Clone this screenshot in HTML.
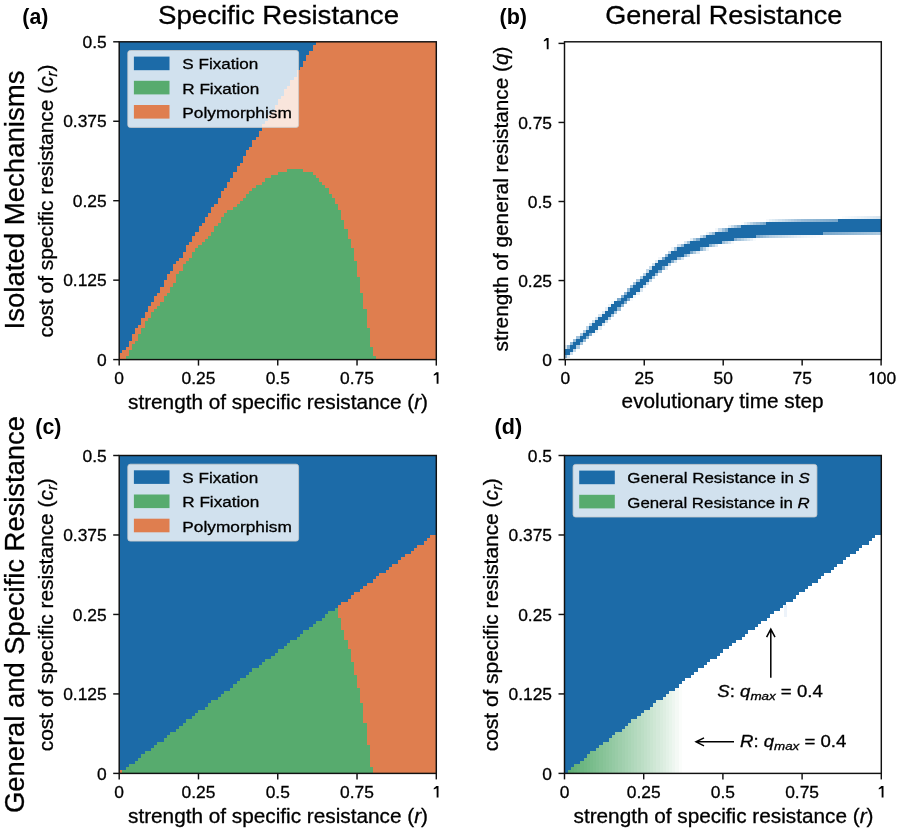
<!DOCTYPE html>
<html><head><meta charset="utf-8"><style>
html,body{margin:0;padding:0;background:#fff;}
body{width:900px;height:831px;overflow:hidden;}
svg{display:block;font-family:'Liberation Sans', sans-serif;will-change:transform;}
text{stroke:#000;stroke-width:0.3px;}
text[font-weight=bold]{stroke:none;}
</style></head><body>
<svg width="900" height="831" viewBox="0 0 900 831">
<g shape-rendering="crispEdges">
<rect x="119.20" y="41.80" width="317.10" height="317.80" fill="#df7e4f"/><path fill="#1c6ba8" d="M119.20 41.80H122.39V353.24H119.20ZM122.37 41.80H125.56V350.07H122.37ZM125.54 41.80H128.73V346.89H125.54ZM128.71 41.80H131.90V340.53H128.71ZM131.88 41.80H135.08V334.18H131.88ZM135.06 41.80H138.25V327.82H135.06ZM138.23 41.80H141.42V324.64H138.23ZM141.40 41.80H144.59V318.29H141.40ZM144.57 41.80H147.76V311.93H144.57ZM147.74 41.80H150.93V305.57H147.74ZM150.91 41.80H154.10V302.40H150.91ZM154.08 41.80H157.27V296.04H154.08ZM157.25 41.80H160.44V292.86H157.25ZM160.42 41.80H163.61V286.51H160.42ZM163.59 41.80H166.78V280.15H163.59ZM166.77 41.80H169.96V273.79H166.77ZM169.94 41.80H173.13V270.62H169.94ZM173.11 41.80H176.30V264.26H173.11ZM176.28 41.80H179.47V261.08H176.28ZM179.45 41.80H182.64V257.90H179.45ZM182.62 41.80H185.81V251.55H182.62ZM185.79 41.80H188.98V245.19H185.79ZM188.96 41.80H192.15V242.01H188.96ZM192.13 41.80H195.32V235.66H192.13ZM195.30 41.80H198.50V232.48H195.30ZM198.48 41.80H201.67V226.12H198.48ZM201.65 41.80H204.84V222.95H201.65ZM204.82 41.80H208.01V216.59H204.82ZM207.99 41.80H211.18V213.41H207.99ZM211.16 41.80H214.35V207.06H211.16ZM214.33 41.80H217.52V203.88H214.33ZM217.50 41.80H220.69V197.52H217.50ZM220.67 41.80H223.86V191.17H220.67ZM223.84 41.80H227.03V187.99H223.84ZM227.01 41.80H230.21V181.63H227.01ZM230.19 41.80H233.38V178.45H230.19ZM233.36 41.80H236.55V172.10H233.36ZM236.53 41.80H239.72V165.74H236.53ZM239.70 41.80H242.89V162.56H239.70ZM242.87 41.80H246.06V156.21H242.87ZM246.04 41.80H249.23V149.85H246.04ZM249.21 41.80H252.40V146.67H249.21ZM252.38 41.80H255.57V140.32H252.38ZM255.55 41.80H258.74V137.14H255.55ZM258.72 41.80H261.91V130.78H258.72ZM261.90 41.80H265.09V124.43H261.90ZM265.07 41.80H268.26V121.25H265.07ZM268.24 41.80H271.43V114.89H268.24ZM271.41 41.80H274.60V111.72H271.41ZM274.58 41.80H277.77V105.36H274.58ZM277.75 41.80H280.94V99.00H277.75ZM280.92 41.80H284.11V95.83H280.92ZM284.09 41.80H287.28V89.47H284.09ZM287.26 41.80H290.45V86.29H287.26ZM290.43 41.80H293.62V79.94H290.43ZM293.61 41.80H296.80V76.76H293.61ZM296.78 41.80H299.97V70.40H296.78ZM299.95 41.80H303.14V67.22H299.95ZM303.12 41.80H306.31V60.87H303.12ZM306.29 41.80H309.48V54.51H306.29ZM309.46 41.80H312.65V51.33H309.46ZM312.63 41.80H315.82V44.98H312.63Z"/>
<path fill="#57ab6e" d="M125.54 356.42H128.73V359.60H125.54ZM128.71 350.07H131.90V359.60H128.71ZM131.88 343.71H135.08V359.60H131.88ZM135.06 340.53H138.25V359.60H135.06ZM138.23 334.18H141.42V359.60H138.23ZM141.40 327.82H144.59V359.60H141.40ZM144.57 321.46H147.76V359.60H144.57ZM147.74 318.29H150.93V359.60H147.74ZM150.91 311.93H154.10V359.60H150.91ZM154.08 308.75H157.27V359.60H154.08ZM157.25 305.57H160.44V359.60H157.25ZM160.42 302.40H163.61V359.60H160.42ZM163.59 296.04H166.78V359.60H163.59ZM166.77 292.86H169.96V359.60H166.77ZM169.94 286.51H173.13V359.60H169.94ZM173.11 283.33H176.30V359.60H173.11ZM176.28 273.79H179.47V359.60H176.28ZM179.45 270.62H182.64V359.60H179.45ZM182.62 264.26H185.81V359.60H182.62ZM185.79 261.08H188.98V359.60H185.79ZM188.96 257.90H192.15V359.60H188.96ZM192.13 251.55H195.32V359.60H192.13ZM195.30 248.37H198.50V359.60H195.30ZM198.48 245.19H201.67V359.60H198.48ZM201.65 242.01H204.84V359.60H201.65ZM204.82 238.84H208.01V359.60H204.82ZM207.99 235.66H211.18V359.60H207.99ZM211.16 232.48H214.35V359.60H211.16ZM214.33 226.12H217.52V359.60H214.33ZM217.50 222.95H220.69V359.60H217.50ZM220.67 216.59H223.86V359.60H220.67ZM223.84 213.41H227.03V359.60H223.84ZM227.01 210.23H230.21V359.60H227.01ZM230.19 210.23H233.38V359.60H230.19ZM233.36 207.06H236.55V359.60H233.36ZM236.53 203.88H239.72V359.60H236.53ZM239.70 200.70H242.89V359.60H239.70ZM242.87 197.52H246.06V359.60H242.87ZM246.04 194.34H249.23V359.60H246.04ZM249.21 191.17H252.40V359.60H249.21ZM252.38 187.99H255.57V359.60H252.38ZM255.55 184.81H258.74V359.60H255.55ZM258.72 184.81H261.91V359.60H258.72ZM261.90 181.63H265.09V359.60H261.90ZM265.07 178.45H268.26V359.60H265.07ZM268.24 178.45H271.43V359.60H268.24ZM271.41 175.28H274.60V359.60H271.41ZM274.58 175.28H277.77V359.60H274.58ZM277.75 172.10H280.94V359.60H277.75ZM280.92 172.10H284.11V359.60H280.92ZM284.09 172.10H287.28V359.60H284.09ZM287.26 168.92H290.45V359.60H287.26ZM290.43 168.92H293.62V359.60H290.43ZM293.61 168.92H296.80V359.60H293.61ZM296.78 168.92H299.97V359.60H296.78ZM299.95 168.92H303.14V359.60H299.95ZM303.12 172.10H306.31V359.60H303.12ZM306.29 172.10H309.48V359.60H306.29ZM309.46 172.10H312.65V359.60H309.46ZM312.63 175.28H315.82V359.60H312.63ZM315.80 178.45H318.99V359.60H315.80ZM318.97 181.63H322.16V359.60H318.97ZM322.14 184.81H325.33V359.60H322.14ZM325.31 187.99H328.51V359.60H325.31ZM328.49 194.34H331.68V359.60H328.49ZM331.66 197.52H334.85V359.60H331.66ZM334.83 203.88H338.02V359.60H334.83ZM338.00 210.23H341.19V359.60H338.00ZM341.17 219.77H344.36V359.60H341.17ZM344.34 229.30H347.53V359.60H344.34ZM347.51 238.84H350.70V359.60H347.51ZM350.68 248.37H353.87V359.60H350.68ZM353.85 261.08H357.05V359.60H353.85ZM357.03 276.97H360.22V359.60H357.03ZM360.20 292.86H363.39V359.60H360.20ZM363.37 308.75H366.56V359.60H363.37ZM366.54 327.82H369.73V359.60H366.54ZM369.71 346.89H372.90V359.60H369.71ZM372.88 356.42H376.07V359.60H372.88Z"/>
<rect x="119.20" y="455.50" width="317.10" height="317.90" fill="#df7e4f"/><path fill="#1c6ba8" d="M119.20 455.50H122.39V770.22H119.20ZM122.37 455.50H125.56V770.22H122.37ZM125.54 455.50H128.73V767.04H125.54ZM128.71 455.50H131.90V763.86H128.71ZM131.88 455.50H135.08V763.86H131.88ZM135.06 455.50H138.25V760.68H135.06ZM138.23 455.50H141.42V757.50H138.23ZM141.40 455.50H144.59V754.33H141.40ZM144.57 455.50H147.76V751.15H144.57ZM147.74 455.50H150.93V751.15H147.74ZM150.91 455.50H154.10V747.97H150.91ZM154.08 455.50H157.27V744.79H154.08ZM157.25 455.50H160.44V741.61H157.25ZM160.42 455.50H163.61V741.61H160.42ZM163.59 455.50H166.78V738.43H163.59ZM166.77 455.50H169.96V735.25H166.77ZM169.94 455.50H173.13V732.07H169.94ZM173.11 455.50H176.30V732.07H173.11ZM176.28 455.50H179.47V728.89H176.28ZM179.45 455.50H182.64V725.72H179.45ZM182.62 455.50H185.81V722.54H182.62ZM185.79 455.50H188.98V719.36H185.79ZM188.96 455.50H192.15V719.36H188.96ZM192.13 455.50H195.32V716.18H192.13ZM195.30 455.50H198.50V713.00H195.30ZM198.48 455.50H201.67V709.82H198.48ZM201.65 455.50H204.84V709.82H201.65ZM204.82 455.50H208.01V706.64H204.82ZM207.99 455.50H211.18V703.46H207.99ZM211.16 455.50H214.35V700.28H211.16ZM214.33 455.50H217.52V700.28H214.33ZM217.50 455.50H220.69V697.10H217.50ZM220.67 455.50H223.86V693.92H220.67ZM223.84 455.50H227.03V690.75H223.84ZM227.01 455.50H230.21V690.75H227.01ZM230.19 455.50H233.38V687.57H230.19ZM233.36 455.50H236.55V684.39H233.36ZM236.53 455.50H239.72V681.21H236.53ZM239.70 455.50H242.89V678.03H239.70ZM242.87 455.50H246.06V678.03H242.87ZM246.04 455.50H249.23V674.85H246.04ZM249.21 455.50H252.40V671.67H249.21ZM252.38 455.50H255.57V668.49H252.38ZM255.55 455.50H258.74V668.49H255.55ZM258.72 455.50H261.91V665.31H258.72ZM261.90 455.50H265.09V662.13H261.90ZM265.07 455.50H268.26V658.96H265.07ZM268.24 455.50H271.43V658.96H268.24ZM271.41 455.50H274.60V655.78H271.41ZM274.58 455.50H277.77V652.60H274.58ZM277.75 455.50H280.94V649.42H277.75ZM280.92 455.50H284.11V649.42H280.92ZM284.09 455.50H287.28V646.24H284.09ZM287.26 455.50H290.45V643.06H287.26ZM290.43 455.50H293.62V639.88H290.43ZM293.61 455.50H296.80V639.88H293.61ZM296.78 455.50H299.97V636.70H296.78ZM299.95 455.50H303.14V633.52H299.95ZM303.12 455.50H306.31V630.35H303.12ZM306.29 455.50H309.48V630.35H306.29ZM309.46 455.50H312.65V627.17H309.46ZM312.63 455.50H315.82V623.99H312.63ZM315.80 455.50H318.99V620.81H315.80ZM318.97 455.50H322.16V620.81H318.97ZM322.14 455.50H325.33V617.63H322.14ZM325.31 455.50H328.51V614.45H325.31ZM328.49 455.50H331.68V611.27H328.49ZM331.66 455.50H334.85V611.27H331.66ZM334.83 455.50H338.02V608.09H334.83ZM338.00 455.50H341.19V604.91H338.00ZM341.17 455.50H344.36V601.73H341.17ZM344.34 455.50H347.53V601.73H344.34ZM347.51 455.50H350.70V598.55H347.51ZM350.68 455.50H353.87V595.38H350.68ZM353.85 455.50H357.05V592.20H353.85ZM357.03 455.50H360.22V592.20H357.03ZM360.20 455.50H363.39V589.02H360.20ZM363.37 455.50H366.56V585.84H363.37ZM366.54 455.50H369.73V582.66H366.54ZM369.71 455.50H372.90V582.66H369.71ZM372.88 455.50H376.07V579.48H372.88ZM376.05 455.50H379.24V576.30H376.05ZM379.22 455.50H382.41V573.12H379.22ZM382.39 455.50H385.58V573.12H382.39ZM385.56 455.50H388.75V569.94H385.56ZM388.74 455.50H391.93V566.76H388.74ZM391.91 455.50H395.10V563.59H391.91ZM395.08 455.50H398.27V563.59H395.08ZM398.25 455.50H401.44V560.41H398.25ZM401.42 455.50H404.61V557.23H401.42ZM404.59 455.50H407.78V554.05H404.59ZM407.76 455.50H410.95V554.05H407.76ZM410.93 455.50H414.12V550.87H410.93ZM414.10 455.50H417.29V547.69H414.10ZM417.27 455.50H420.46V544.51H417.27ZM420.44 455.50H423.64V544.51H420.44ZM423.62 455.50H426.81V541.33H423.62ZM426.79 455.50H429.98V538.15H426.79ZM429.96 455.50H433.15V534.98H429.96ZM433.13 455.50H436.32V534.98H433.13Z"/>
<path fill="#57ab6e" d="M122.37 770.22H125.56V773.40H122.37ZM125.54 767.04H128.73V773.40H125.54ZM128.71 763.86H131.90V773.40H128.71ZM131.88 763.86H135.08V773.40H131.88ZM135.06 760.68H138.25V773.40H135.06ZM138.23 757.50H141.42V773.40H138.23ZM141.40 754.33H144.59V773.40H141.40ZM144.57 751.15H147.76V773.40H144.57ZM147.74 751.15H150.93V773.40H147.74ZM150.91 747.97H154.10V773.40H150.91ZM154.08 744.79H157.27V773.40H154.08ZM157.25 741.61H160.44V773.40H157.25ZM160.42 741.61H163.61V773.40H160.42ZM163.59 738.43H166.78V773.40H163.59ZM166.77 735.25H169.96V773.40H166.77ZM169.94 732.07H173.13V773.40H169.94ZM173.11 732.07H176.30V773.40H173.11ZM176.28 728.89H179.47V773.40H176.28ZM179.45 725.72H182.64V773.40H179.45ZM182.62 722.54H185.81V773.40H182.62ZM185.79 719.36H188.98V773.40H185.79ZM188.96 719.36H192.15V773.40H188.96ZM192.13 716.18H195.32V773.40H192.13ZM195.30 713.00H198.50V773.40H195.30ZM198.48 709.82H201.67V773.40H198.48ZM201.65 709.82H204.84V773.40H201.65ZM204.82 706.64H208.01V773.40H204.82ZM207.99 703.46H211.18V773.40H207.99ZM211.16 700.28H214.35V773.40H211.16ZM214.33 700.28H217.52V773.40H214.33ZM217.50 697.10H220.69V773.40H217.50ZM220.67 693.92H223.86V773.40H220.67ZM223.84 690.75H227.03V773.40H223.84ZM227.01 690.75H230.21V773.40H227.01ZM230.19 687.57H233.38V773.40H230.19ZM233.36 684.39H236.55V773.40H233.36ZM236.53 681.21H239.72V773.40H236.53ZM239.70 678.03H242.89V773.40H239.70ZM242.87 678.03H246.06V773.40H242.87ZM246.04 674.85H249.23V773.40H246.04ZM249.21 671.67H252.40V773.40H249.21ZM252.38 668.49H255.57V773.40H252.38ZM255.55 668.49H258.74V773.40H255.55ZM258.72 665.31H261.91V773.40H258.72ZM261.90 662.13H265.09V773.40H261.90ZM265.07 658.96H268.26V773.40H265.07ZM268.24 658.96H271.43V773.40H268.24ZM271.41 655.78H274.60V773.40H271.41ZM274.58 652.60H277.77V773.40H274.58ZM277.75 649.42H280.94V773.40H277.75ZM280.92 649.42H284.11V773.40H280.92ZM284.09 646.24H287.28V773.40H284.09ZM287.26 643.06H290.45V773.40H287.26ZM290.43 639.88H293.62V773.40H290.43ZM293.61 639.88H296.80V773.40H293.61ZM296.78 636.70H299.97V773.40H296.78ZM299.95 633.52H303.14V773.40H299.95ZM303.12 630.35H306.31V773.40H303.12ZM306.29 630.35H309.48V773.40H306.29ZM309.46 627.17H312.65V773.40H309.46ZM312.63 623.99H315.82V773.40H312.63ZM315.80 620.81H318.99V773.40H315.80ZM318.97 620.81H322.16V773.40H318.97ZM322.14 617.63H325.33V773.40H322.14ZM325.31 614.45H328.51V773.40H325.31ZM328.49 611.27H331.68V773.40H328.49ZM331.66 611.27H334.85V773.40H331.66ZM334.83 608.09H338.02V773.40H334.83ZM338.00 617.63H341.19V773.40H338.00ZM341.17 630.35H344.36V773.40H341.17ZM344.34 639.88H347.53V773.40H344.34ZM347.51 649.42H350.70V773.40H347.51ZM350.68 662.13H353.87V773.40H350.68ZM353.85 674.85H357.05V773.40H353.85ZM357.03 687.57H360.22V773.40H357.03ZM360.20 703.46H363.39V773.40H360.20ZM363.37 722.54H366.56V773.40H363.37ZM366.54 744.79H369.73V773.40H366.54ZM369.71 767.04H372.90V773.40H369.71Z"/>
<path fill="#1c6ba8" d="M564.50 455.50H567.69V773.40H564.50ZM567.67 455.50H570.86V770.22H567.67ZM570.84 455.50H574.02V767.04H570.84ZM574.00 455.50H577.19V763.86H574.00ZM577.17 455.50H580.36V763.86H577.17ZM580.34 455.50H583.53V760.68H580.34ZM583.51 455.50H586.70V757.50H583.51ZM586.68 455.50H589.86V754.33H586.68ZM589.84 455.50H593.03V751.15H589.84ZM593.01 455.50H596.20V751.15H593.01ZM596.18 455.50H599.37V747.97H596.18ZM599.35 455.50H602.54V744.79H599.35ZM602.52 455.50H605.70V741.61H602.52ZM605.68 455.50H608.87V741.61H605.68ZM608.85 455.50H612.04V738.43H608.85ZM612.02 455.50H615.21V735.25H612.02ZM615.19 455.50H618.38V732.07H615.19ZM618.36 455.50H621.54V732.07H618.36ZM621.52 455.50H624.71V728.89H621.52ZM624.69 455.50H627.88V725.72H624.69ZM627.86 455.50H631.05V722.54H627.86ZM631.03 455.50H634.22V719.36H631.03ZM634.20 455.50H637.38V719.36H634.20ZM637.36 455.50H640.55V716.18H637.36ZM640.53 455.50H643.72V713.00H640.53ZM643.70 455.50H646.89V709.82H643.70ZM646.87 455.50H650.06V709.82H646.87ZM650.04 455.50H653.22V706.64H650.04ZM653.20 455.50H656.39V703.46H653.20ZM656.37 455.50H659.56V700.28H656.37ZM659.54 455.50H662.73V700.28H659.54ZM662.71 455.50H665.90V697.10H662.71ZM665.88 455.50H669.06V693.92H665.88ZM669.04 455.50H672.23V690.75H669.04ZM672.21 455.50H675.40V690.75H672.21ZM675.38 455.50H678.57V687.57H675.38ZM678.55 455.50H681.74V684.39H678.55ZM681.72 455.50H684.90V681.21H681.72ZM684.88 455.50H688.07V678.03H684.88ZM688.05 455.50H691.24V678.03H688.05ZM691.22 455.50H694.41V674.85H691.22ZM694.39 455.50H697.58V671.67H694.39ZM697.56 455.50H700.74V668.49H697.56ZM700.72 455.50H703.91V668.49H700.72ZM703.89 455.50H707.08V665.31H703.89ZM707.06 455.50H710.25V662.13H707.06ZM710.23 455.50H713.42V658.96H710.23ZM713.40 455.50H716.58V658.96H713.40ZM716.56 455.50H719.75V655.78H716.56ZM719.73 455.50H722.92V652.60H719.73ZM722.90 455.50H726.09V649.42H722.90ZM726.07 455.50H729.26V649.42H726.07ZM729.24 455.50H732.42V646.24H729.24ZM732.40 455.50H735.59V643.06H732.40ZM735.57 455.50H738.76V639.88H735.57ZM738.74 455.50H741.93V639.88H738.74ZM741.91 455.50H745.10V636.70H741.91ZM745.08 455.50H748.26V633.52H745.08ZM748.24 455.50H751.43V630.35H748.24ZM751.41 455.50H754.60V630.35H751.41ZM754.58 455.50H757.77V627.17H754.58ZM757.75 455.50H760.94V623.99H757.75ZM760.92 455.50H764.10V620.81H760.92ZM764.08 455.50H767.27V620.81H764.08ZM767.25 455.50H770.44V617.63H767.25ZM770.42 455.50H773.61V614.45H770.42ZM773.59 455.50H776.78V611.27H773.59ZM776.76 455.50H779.94V611.27H776.76ZM779.92 455.50H783.11V608.09H779.92ZM783.09 455.50H786.28V604.91H783.09ZM786.26 455.50H789.45V601.73H786.26ZM789.43 455.50H792.62V601.73H789.43ZM792.60 455.50H795.78V598.55H792.60ZM795.76 455.50H798.95V595.38H795.76ZM798.93 455.50H802.12V592.20H798.93ZM802.10 455.50H805.29V592.20H802.10ZM805.27 455.50H808.46V589.02H805.27ZM808.44 455.50H811.62V585.84H808.44ZM811.60 455.50H814.79V582.66H811.60ZM814.77 455.50H817.96V582.66H814.77ZM817.94 455.50H821.13V579.48H817.94ZM821.11 455.50H824.30V576.30H821.11ZM824.28 455.50H827.46V573.12H824.28ZM827.44 455.50H830.63V573.12H827.44ZM830.61 455.50H833.80V569.94H830.61ZM833.78 455.50H836.97V566.76H833.78ZM836.95 455.50H840.14V563.59H836.95ZM840.12 455.50H843.30V563.59H840.12ZM843.28 455.50H846.47V560.41H843.28ZM846.45 455.50H849.64V557.23H846.45ZM849.62 455.50H852.81V554.05H849.62ZM852.79 455.50H855.98V554.05H852.79ZM855.96 455.50H859.14V550.87H855.96ZM859.12 455.50H862.31V547.69H859.12ZM862.29 455.50H865.48V544.51H862.29ZM865.46 455.50H868.65V544.51H865.46ZM868.63 455.50H871.82V541.33H868.63ZM871.80 455.50H874.98V538.15H871.80ZM874.96 455.50H878.15V534.98H874.96ZM878.13 455.50H881.32V534.98H878.13Z"/>
<rect x="567.67" y="770.22" width="3.20" height="3.18" fill="#5dae73"/>
<rect x="570.84" y="767.04" width="3.20" height="6.36" fill="#61b076"/>
<rect x="574.00" y="763.86" width="3.20" height="9.54" fill="#65b27a"/>
<rect x="577.17" y="763.86" width="3.20" height="9.54" fill="#69b47d"/>
<rect x="580.34" y="760.68" width="3.20" height="12.72" fill="#6cb681"/>
<rect x="583.51" y="757.50" width="3.20" height="15.89" fill="#70b884"/>
<rect x="586.68" y="754.33" width="3.20" height="19.07" fill="#74ba87"/>
<rect x="589.84" y="751.15" width="3.20" height="22.25" fill="#78bc8b"/>
<rect x="593.01" y="751.15" width="3.20" height="22.25" fill="#7cbe8e"/>
<rect x="596.18" y="747.97" width="3.20" height="25.43" fill="#80c092"/>
<rect x="599.35" y="744.79" width="3.20" height="28.61" fill="#85c295"/>
<rect x="602.52" y="741.61" width="3.20" height="31.79" fill="#89c499"/>
<rect x="605.68" y="741.61" width="3.20" height="31.79" fill="#8dc69c"/>
<rect x="608.85" y="738.43" width="3.20" height="34.97" fill="#91c8a0"/>
<rect x="612.02" y="735.25" width="3.20" height="38.15" fill="#95caa4"/>
<rect x="615.19" y="732.07" width="3.20" height="41.33" fill="#99cca7"/>
<rect x="618.36" y="732.07" width="3.20" height="41.33" fill="#9eceab"/>
<rect x="621.52" y="728.89" width="3.20" height="44.51" fill="#a2d0af"/>
<rect x="624.69" y="725.72" width="3.20" height="47.68" fill="#a6d3b2"/>
<rect x="627.86" y="722.54" width="3.20" height="50.86" fill="#aad5b6"/>
<rect x="631.03" y="719.36" width="3.20" height="54.04" fill="#afd7ba"/>
<rect x="634.20" y="719.36" width="3.20" height="54.04" fill="#b3d9be"/>
<rect x="637.36" y="716.18" width="3.20" height="57.22" fill="#b8dbc1"/>
<rect x="640.53" y="713.00" width="3.20" height="60.40" fill="#bcdec5"/>
<rect x="643.70" y="709.82" width="3.20" height="63.58" fill="#c1e0c9"/>
<rect x="646.87" y="709.82" width="3.20" height="63.58" fill="#c5e2cd"/>
<rect x="650.04" y="706.64" width="3.20" height="66.76" fill="#cae5d1"/>
<rect x="653.20" y="703.46" width="3.20" height="69.94" fill="#cfe7d5"/>
<rect x="656.37" y="700.28" width="3.20" height="73.12" fill="#d4e9da"/>
<rect x="659.54" y="700.28" width="3.20" height="73.12" fill="#d9ecde"/>
<rect x="662.71" y="697.10" width="3.20" height="76.30" fill="#deeee2"/>
<rect x="665.88" y="693.92" width="3.20" height="79.47" fill="#e3f1e7"/>
<rect x="669.04" y="690.75" width="3.20" height="82.65" fill="#e8f4eb"/>
<rect x="672.21" y="690.75" width="3.20" height="82.65" fill="#eef6f0"/>
<rect x="675.38" y="687.57" width="3.20" height="85.83" fill="#f4f9f5"/>
<rect x="678.55" y="684.39" width="3.20" height="89.01" fill="#fbfdfb"/>
<rect x="783.6" y="605" width="3.2" height="11.8" fill="#edf3fa"/>
<rect x="564.50" y="354.86" width="2.41" height="3.19" fill="#8bb4d3"/>
<rect x="564.50" y="351.70" width="2.41" height="3.19" fill="#1c6ba8"/>
<rect x="564.50" y="348.53" width="2.41" height="3.19" fill="#1c6ba8"/>
<rect x="564.50" y="345.37" width="2.41" height="3.19" fill="#dde9f2"/>
<rect x="566.88" y="354.86" width="3.19" height="3.19" fill="#dae7f1"/>
<rect x="566.88" y="351.70" width="3.19" height="3.19" fill="#1c6ba8"/>
<rect x="566.88" y="348.53" width="3.19" height="3.19" fill="#1c6ba8"/>
<rect x="566.88" y="345.37" width="3.19" height="3.19" fill="#89b2d2"/>
<rect x="570.04" y="351.70" width="3.19" height="3.19" fill="#cddeec"/>
<rect x="570.04" y="348.53" width="3.19" height="3.19" fill="#1c6ba8"/>
<rect x="570.04" y="345.37" width="3.19" height="3.19" fill="#1c6ba8"/>
<rect x="570.04" y="342.21" width="3.19" height="3.19" fill="#90b7d5"/>
<rect x="573.19" y="348.53" width="3.19" height="3.19" fill="#c0d6e7"/>
<rect x="573.19" y="345.37" width="3.19" height="3.19" fill="#1c6ba8"/>
<rect x="573.19" y="342.21" width="3.19" height="3.19" fill="#1c6ba8"/>
<rect x="573.19" y="339.05" width="3.19" height="3.19" fill="#98bcd8"/>
<rect x="576.35" y="345.37" width="3.19" height="3.19" fill="#b2cde2"/>
<rect x="576.35" y="342.21" width="3.19" height="3.19" fill="#1c6ba8"/>
<rect x="576.35" y="339.05" width="3.19" height="3.19" fill="#1c6ba8"/>
<rect x="576.35" y="335.89" width="3.19" height="3.19" fill="#a0c1db"/>
<rect x="579.51" y="342.21" width="3.19" height="3.19" fill="#a5c4dc"/>
<rect x="579.51" y="339.05" width="3.19" height="3.19" fill="#1c6ba8"/>
<rect x="579.51" y="335.89" width="3.19" height="3.19" fill="#1c6ba8"/>
<rect x="579.51" y="332.72" width="3.19" height="3.19" fill="#a8c6de"/>
<rect x="582.67" y="339.05" width="3.19" height="3.19" fill="#98bcd7"/>
<rect x="582.67" y="335.89" width="3.19" height="3.19" fill="#1c6ba8"/>
<rect x="582.67" y="332.72" width="3.19" height="3.19" fill="#1c6ba8"/>
<rect x="582.67" y="329.56" width="3.19" height="3.19" fill="#b0cbe1"/>
<rect x="585.83" y="335.89" width="3.19" height="3.19" fill="#8ab3d2"/>
<rect x="585.83" y="332.72" width="3.19" height="3.19" fill="#1c6ba8"/>
<rect x="585.83" y="329.56" width="3.19" height="3.19" fill="#1c6ba8"/>
<rect x="585.83" y="326.40" width="3.19" height="3.19" fill="#b8d1e4"/>
<rect x="588.98" y="332.72" width="3.19" height="3.19" fill="#7daacd"/>
<rect x="588.98" y="329.56" width="3.19" height="3.19" fill="#1c6ba8"/>
<rect x="588.98" y="326.40" width="3.19" height="3.19" fill="#1c6ba8"/>
<rect x="588.98" y="323.24" width="3.19" height="3.19" fill="#c0d6e7"/>
<rect x="592.14" y="332.72" width="3.19" height="3.19" fill="#f8fafc"/>
<rect x="592.14" y="329.56" width="3.19" height="3.19" fill="#1c6ba8"/>
<rect x="592.14" y="326.40" width="3.19" height="3.19" fill="#1c6ba8"/>
<rect x="592.14" y="323.24" width="3.19" height="3.19" fill="#1c6ba8"/>
<rect x="592.14" y="320.08" width="3.19" height="3.19" fill="#c7dbea"/>
<rect x="595.30" y="329.56" width="3.19" height="3.19" fill="#ebf2f7"/>
<rect x="595.30" y="326.40" width="3.19" height="3.19" fill="#1c6ba8"/>
<rect x="595.30" y="323.24" width="3.19" height="3.19" fill="#1c6ba8"/>
<rect x="595.30" y="320.08" width="3.19" height="3.19" fill="#1c6ba8"/>
<rect x="595.30" y="316.91" width="3.19" height="3.19" fill="#cfe0ed"/>
<rect x="598.46" y="326.40" width="3.19" height="3.19" fill="#deeaf2"/>
<rect x="598.46" y="323.24" width="3.19" height="3.19" fill="#1c6ba8"/>
<rect x="598.46" y="320.08" width="3.19" height="3.19" fill="#1c6ba8"/>
<rect x="598.46" y="316.91" width="3.19" height="3.19" fill="#1c6ba8"/>
<rect x="598.46" y="313.75" width="3.19" height="3.19" fill="#d6e4ef"/>
<rect x="601.62" y="323.24" width="3.19" height="3.19" fill="#d2e2ee"/>
<rect x="601.62" y="320.08" width="3.19" height="3.19" fill="#1c6ba8"/>
<rect x="601.62" y="316.91" width="3.19" height="3.19" fill="#1c6ba8"/>
<rect x="601.62" y="313.75" width="3.19" height="3.19" fill="#1c6ba8"/>
<rect x="601.62" y="310.59" width="3.19" height="3.19" fill="#dde9f2"/>
<rect x="604.77" y="320.08" width="3.19" height="3.19" fill="#c6dae9"/>
<rect x="604.77" y="316.91" width="3.19" height="3.19" fill="#1c6ba8"/>
<rect x="604.77" y="313.75" width="3.19" height="3.19" fill="#1c6ba8"/>
<rect x="604.77" y="310.59" width="3.19" height="3.19" fill="#1c6ba8"/>
<rect x="604.77" y="307.43" width="3.19" height="3.19" fill="#e4edf5"/>
<rect x="607.93" y="316.91" width="3.19" height="3.19" fill="#bad2e4"/>
<rect x="607.93" y="313.75" width="3.19" height="3.19" fill="#1c6ba8"/>
<rect x="607.93" y="310.59" width="3.19" height="3.19" fill="#1c6ba8"/>
<rect x="607.93" y="307.43" width="3.19" height="3.19" fill="#1c6ba8"/>
<rect x="607.93" y="304.27" width="3.19" height="3.19" fill="#ebf2f7"/>
<rect x="611.09" y="313.75" width="3.19" height="3.19" fill="#adcae0"/>
<rect x="611.09" y="310.59" width="3.19" height="3.19" fill="#1c6ba8"/>
<rect x="611.09" y="307.43" width="3.19" height="3.19" fill="#1c6ba8"/>
<rect x="611.09" y="304.27" width="3.19" height="3.19" fill="#1c6ba8"/>
<rect x="611.09" y="301.10" width="3.19" height="3.19" fill="#f1f6fa"/>
<rect x="614.25" y="310.59" width="3.19" height="3.19" fill="#a3c3dc"/>
<rect x="614.25" y="307.43" width="3.19" height="3.19" fill="#1c6ba8"/>
<rect x="614.25" y="304.27" width="3.19" height="3.19" fill="#1c6ba8"/>
<rect x="614.25" y="301.10" width="3.19" height="3.19" fill="#1c6ba8"/>
<rect x="614.25" y="297.94" width="3.19" height="3.19" fill="#fafcfd"/>
<rect x="617.41" y="307.43" width="3.19" height="3.19" fill="#98bcd7"/>
<rect x="617.41" y="304.27" width="3.19" height="3.19" fill="#1c6ba8"/>
<rect x="617.41" y="301.10" width="3.19" height="3.19" fill="#1c6ba8"/>
<rect x="617.41" y="297.94" width="3.19" height="3.19" fill="#7aa8cc"/>
<rect x="620.56" y="304.27" width="3.19" height="3.19" fill="#8db5d3"/>
<rect x="620.56" y="301.10" width="3.19" height="3.19" fill="#1c6ba8"/>
<rect x="620.56" y="297.94" width="3.19" height="3.19" fill="#1c6ba8"/>
<rect x="620.56" y="294.78" width="3.19" height="3.19" fill="#82aecf"/>
<rect x="623.72" y="301.10" width="3.19" height="3.19" fill="#82aecf"/>
<rect x="623.72" y="297.94" width="3.19" height="3.19" fill="#1c6ba8"/>
<rect x="623.72" y="294.78" width="3.19" height="3.19" fill="#1c6ba8"/>
<rect x="623.72" y="291.62" width="3.19" height="3.19" fill="#8bb3d2"/>
<rect x="626.88" y="297.94" width="3.19" height="3.19" fill="#78a7cb"/>
<rect x="626.88" y="294.78" width="3.19" height="3.19" fill="#1c6ba8"/>
<rect x="626.88" y="291.62" width="3.19" height="3.19" fill="#1c6ba8"/>
<rect x="626.88" y="288.46" width="3.19" height="3.19" fill="#93b9d6"/>
<rect x="630.04" y="297.94" width="3.19" height="3.19" fill="#f6f9fc"/>
<rect x="630.04" y="294.78" width="3.19" height="3.19" fill="#1c6ba8"/>
<rect x="630.04" y="291.62" width="3.19" height="3.19" fill="#1c6ba8"/>
<rect x="630.04" y="288.46" width="3.19" height="3.19" fill="#1c6ba8"/>
<rect x="630.04" y="285.29" width="3.19" height="3.19" fill="#9abdd8"/>
<rect x="633.20" y="294.78" width="3.19" height="3.19" fill="#edf3f8"/>
<rect x="633.20" y="291.62" width="3.19" height="3.19" fill="#1c6ba8"/>
<rect x="633.20" y="288.46" width="3.19" height="3.19" fill="#1c6ba8"/>
<rect x="633.20" y="285.29" width="3.19" height="3.19" fill="#1c6ba8"/>
<rect x="633.20" y="282.13" width="3.19" height="3.19" fill="#a2c2db"/>
<rect x="636.35" y="291.62" width="3.19" height="3.19" fill="#e3edf4"/>
<rect x="636.35" y="288.46" width="3.19" height="3.19" fill="#1c6ba8"/>
<rect x="636.35" y="285.29" width="3.19" height="3.19" fill="#1c6ba8"/>
<rect x="636.35" y="282.13" width="3.19" height="3.19" fill="#1c6ba8"/>
<rect x="636.35" y="278.97" width="3.19" height="3.19" fill="#a9c7de"/>
<rect x="639.51" y="288.46" width="3.19" height="3.19" fill="#d9e6f0"/>
<rect x="639.51" y="285.29" width="3.19" height="3.19" fill="#1c6ba8"/>
<rect x="639.51" y="282.13" width="3.19" height="3.19" fill="#1c6ba8"/>
<rect x="639.51" y="278.97" width="3.19" height="3.19" fill="#1c6ba8"/>
<rect x="639.51" y="275.81" width="3.19" height="3.19" fill="#b0cce1"/>
<rect x="642.67" y="285.29" width="3.19" height="3.19" fill="#cfe0ed"/>
<rect x="642.67" y="282.13" width="3.19" height="3.19" fill="#1c6ba8"/>
<rect x="642.67" y="278.97" width="3.19" height="3.19" fill="#1c6ba8"/>
<rect x="642.67" y="275.81" width="3.19" height="3.19" fill="#1c6ba8"/>
<rect x="642.67" y="272.65" width="3.19" height="3.19" fill="#b8d0e4"/>
<rect x="645.83" y="282.13" width="3.19" height="3.19" fill="#c6dae9"/>
<rect x="645.83" y="278.97" width="3.19" height="3.19" fill="#1c6ba8"/>
<rect x="645.83" y="275.81" width="3.19" height="3.19" fill="#1c6ba8"/>
<rect x="645.83" y="272.65" width="3.19" height="3.19" fill="#1c6ba8"/>
<rect x="645.83" y="269.48" width="3.19" height="3.19" fill="#bfd5e6"/>
<rect x="648.99" y="278.97" width="3.19" height="3.19" fill="#bcd3e5"/>
<rect x="648.99" y="275.81" width="3.19" height="3.19" fill="#1c6ba8"/>
<rect x="648.99" y="272.65" width="3.19" height="3.19" fill="#1c6ba8"/>
<rect x="648.99" y="269.48" width="3.19" height="3.19" fill="#1c6ba8"/>
<rect x="648.99" y="266.32" width="3.19" height="3.19" fill="#c6dae9"/>
<rect x="652.14" y="275.81" width="3.19" height="3.19" fill="#b2cde2"/>
<rect x="652.14" y="272.65" width="3.19" height="3.19" fill="#1c6ba8"/>
<rect x="652.14" y="269.48" width="3.19" height="3.19" fill="#1c6ba8"/>
<rect x="652.14" y="266.32" width="3.19" height="3.19" fill="#1c6ba8"/>
<rect x="652.14" y="263.16" width="3.19" height="3.19" fill="#cedfec"/>
<rect x="655.30" y="272.65" width="3.19" height="3.19" fill="#9fc0da"/>
<rect x="655.30" y="269.48" width="3.19" height="3.19" fill="#1c6ba8"/>
<rect x="655.30" y="266.32" width="3.19" height="3.19" fill="#1c6ba8"/>
<rect x="655.30" y="263.16" width="3.19" height="3.19" fill="#1c6ba8"/>
<rect x="655.30" y="260.00" width="3.19" height="3.19" fill="#dfeaf3"/>
<rect x="658.46" y="269.48" width="3.19" height="3.19" fill="#8cb4d3"/>
<rect x="658.46" y="266.32" width="3.19" height="3.19" fill="#1c6ba8"/>
<rect x="658.46" y="263.16" width="3.19" height="3.19" fill="#1c6ba8"/>
<rect x="658.46" y="260.00" width="3.19" height="3.19" fill="#1c6ba8"/>
<rect x="658.46" y="256.84" width="3.19" height="3.19" fill="#f0f5f9"/>
<rect x="661.62" y="266.32" width="3.19" height="3.19" fill="#78a7cb"/>
<rect x="661.62" y="263.16" width="3.19" height="3.19" fill="#1c6ba8"/>
<rect x="661.62" y="260.00" width="3.19" height="3.19" fill="#1c6ba8"/>
<rect x="661.62" y="256.84" width="3.19" height="3.19" fill="#78a7cb"/>
<rect x="664.78" y="266.32" width="3.19" height="3.19" fill="#dde9f2"/>
<rect x="664.78" y="263.16" width="3.19" height="3.19" fill="#1c6ba8"/>
<rect x="664.78" y="260.00" width="3.19" height="3.19" fill="#1c6ba8"/>
<rect x="664.78" y="256.84" width="3.19" height="3.19" fill="#1c6ba8"/>
<rect x="664.78" y="253.67" width="3.19" height="3.19" fill="#98bcd8"/>
<rect x="667.93" y="263.16" width="3.19" height="3.19" fill="#b9d1e4"/>
<rect x="667.93" y="260.00" width="3.19" height="3.19" fill="#1c6ba8"/>
<rect x="667.93" y="256.84" width="3.19" height="3.19" fill="#1c6ba8"/>
<rect x="667.93" y="253.67" width="3.19" height="3.19" fill="#1c6ba8"/>
<rect x="667.93" y="250.51" width="3.19" height="3.19" fill="#b9d1e4"/>
<rect x="671.09" y="260.00" width="3.19" height="3.19" fill="#81adcf"/>
<rect x="671.09" y="256.84" width="3.19" height="3.19" fill="#1c6ba8"/>
<rect x="671.09" y="253.67" width="3.19" height="3.19" fill="#1c6ba8"/>
<rect x="671.09" y="250.51" width="3.19" height="3.19" fill="#1c6ba8"/>
<rect x="671.09" y="247.35" width="3.19" height="3.19" fill="#eef4f8"/>
<rect x="674.25" y="260.00" width="3.19" height="3.19" fill="#d1e1ed"/>
<rect x="674.25" y="256.84" width="3.19" height="3.19" fill="#1c6ba8"/>
<rect x="674.25" y="253.67" width="3.19" height="3.19" fill="#1c6ba8"/>
<rect x="674.25" y="250.51" width="3.19" height="3.19" fill="#1c6ba8"/>
<rect x="674.25" y="247.35" width="3.19" height="3.19" fill="#9bbed9"/>
<rect x="677.41" y="256.84" width="3.19" height="3.19" fill="#99bdd8"/>
<rect x="677.41" y="253.67" width="3.19" height="3.19" fill="#1c6ba8"/>
<rect x="677.41" y="250.51" width="3.19" height="3.19" fill="#1c6ba8"/>
<rect x="677.41" y="247.35" width="3.19" height="3.19" fill="#1c6ba8"/>
<rect x="677.41" y="244.19" width="3.19" height="3.19" fill="#d0e0ed"/>
<rect x="680.57" y="256.84" width="3.19" height="3.19" fill="#d5e4ef"/>
<rect x="680.57" y="253.67" width="3.19" height="3.19" fill="#1c6ba8"/>
<rect x="680.57" y="250.51" width="3.19" height="3.19" fill="#1c6ba8"/>
<rect x="680.57" y="247.35" width="3.19" height="3.19" fill="#1c6ba8"/>
<rect x="680.57" y="244.19" width="3.19" height="3.19" fill="#91b7d5"/>
<rect x="683.72" y="253.67" width="3.19" height="3.19" fill="#88b2d2"/>
<rect x="683.72" y="250.51" width="3.19" height="3.19" fill="#1c6ba8"/>
<rect x="683.72" y="247.35" width="3.19" height="3.19" fill="#1c6ba8"/>
<rect x="683.72" y="244.19" width="3.19" height="3.19" fill="#1c6ba8"/>
<rect x="683.72" y="241.03" width="3.19" height="3.19" fill="#dae7f1"/>
<rect x="686.88" y="253.67" width="3.19" height="3.19" fill="#c4d9e8"/>
<rect x="686.88" y="250.51" width="3.19" height="3.19" fill="#1c6ba8"/>
<rect x="686.88" y="247.35" width="3.19" height="3.19" fill="#1c6ba8"/>
<rect x="686.88" y="244.19" width="3.19" height="3.19" fill="#1c6ba8"/>
<rect x="686.88" y="241.03" width="3.19" height="3.19" fill="#9bbed9"/>
<rect x="690.04" y="250.51" width="3.19" height="3.19" fill="#78a7cb"/>
<rect x="690.04" y="247.35" width="3.19" height="3.19" fill="#1c6ba8"/>
<rect x="690.04" y="244.19" width="3.19" height="3.19" fill="#1c6ba8"/>
<rect x="690.04" y="241.03" width="3.19" height="3.19" fill="#1c6ba8"/>
<rect x="690.04" y="237.86" width="3.19" height="3.19" fill="#e5eef5"/>
<rect x="693.20" y="250.51" width="3.19" height="3.19" fill="#aac8de"/>
<rect x="693.20" y="247.35" width="3.19" height="3.19" fill="#1c6ba8"/>
<rect x="693.20" y="244.19" width="3.19" height="3.19" fill="#1c6ba8"/>
<rect x="693.20" y="241.03" width="3.19" height="3.19" fill="#1c6ba8"/>
<rect x="693.20" y="237.86" width="3.19" height="3.19" fill="#afcbe0"/>
<rect x="696.36" y="250.51" width="3.19" height="3.19" fill="#dce8f2"/>
<rect x="696.36" y="247.35" width="3.19" height="3.19" fill="#1c6ba8"/>
<rect x="696.36" y="244.19" width="3.19" height="3.19" fill="#1c6ba8"/>
<rect x="696.36" y="241.03" width="3.19" height="3.19" fill="#1c6ba8"/>
<rect x="696.36" y="237.86" width="3.19" height="3.19" fill="#7aa8cc"/>
<rect x="699.51" y="247.35" width="3.19" height="3.19" fill="#86b0d1"/>
<rect x="699.51" y="244.19" width="3.19" height="3.19" fill="#1c6ba8"/>
<rect x="699.51" y="241.03" width="3.19" height="3.19" fill="#1c6ba8"/>
<rect x="699.51" y="237.86" width="3.19" height="3.19" fill="#1c6ba8"/>
<rect x="699.51" y="234.70" width="3.19" height="3.19" fill="#cddeec"/>
<rect x="702.67" y="247.35" width="3.19" height="3.19" fill="#b8d1e4"/>
<rect x="702.67" y="244.19" width="3.19" height="3.19" fill="#1c6ba8"/>
<rect x="702.67" y="241.03" width="3.19" height="3.19" fill="#1c6ba8"/>
<rect x="702.67" y="237.86" width="3.19" height="3.19" fill="#1c6ba8"/>
<rect x="702.67" y="234.70" width="3.19" height="3.19" fill="#98bcd7"/>
<rect x="705.83" y="247.35" width="3.19" height="3.19" fill="#ebf2f7"/>
<rect x="705.83" y="244.19" width="3.19" height="3.19" fill="#1c6ba8"/>
<rect x="705.83" y="241.03" width="3.19" height="3.19" fill="#1c6ba8"/>
<rect x="705.83" y="237.86" width="3.19" height="3.19" fill="#1c6ba8"/>
<rect x="705.83" y="234.70" width="3.19" height="3.19" fill="#1c6ba8"/>
<rect x="705.83" y="231.54" width="3.19" height="3.19" fill="#ebf2f7"/>
<rect x="708.99" y="244.19" width="3.19" height="3.19" fill="#89b2d2"/>
<rect x="708.99" y="241.03" width="3.19" height="3.19" fill="#1c6ba8"/>
<rect x="708.99" y="237.86" width="3.19" height="3.19" fill="#1c6ba8"/>
<rect x="708.99" y="234.70" width="3.19" height="3.19" fill="#1c6ba8"/>
<rect x="708.99" y="231.54" width="3.19" height="3.19" fill="#c0d6e7"/>
<rect x="712.15" y="244.19" width="3.19" height="3.19" fill="#b0cce1"/>
<rect x="712.15" y="241.03" width="3.19" height="3.19" fill="#1c6ba8"/>
<rect x="712.15" y="237.86" width="3.19" height="3.19" fill="#1c6ba8"/>
<rect x="712.15" y="234.70" width="3.19" height="3.19" fill="#1c6ba8"/>
<rect x="712.15" y="231.54" width="3.19" height="3.19" fill="#95bad6"/>
<rect x="715.30" y="244.19" width="3.19" height="3.19" fill="#d8e5f0"/>
<rect x="715.30" y="241.03" width="3.19" height="3.19" fill="#1c6ba8"/>
<rect x="715.30" y="237.86" width="3.19" height="3.19" fill="#1c6ba8"/>
<rect x="715.30" y="234.70" width="3.19" height="3.19" fill="#1c6ba8"/>
<rect x="715.30" y="231.54" width="3.19" height="3.19" fill="#1c6ba8"/>
<rect x="715.30" y="228.38" width="3.19" height="3.19" fill="#f3f7fa"/>
<rect x="718.46" y="241.03" width="3.19" height="3.19" fill="#1c6ba8"/>
<rect x="718.46" y="237.86" width="3.19" height="3.19" fill="#1c6ba8"/>
<rect x="718.46" y="234.70" width="3.19" height="3.19" fill="#1c6ba8"/>
<rect x="718.46" y="231.54" width="3.19" height="3.19" fill="#1c6ba8"/>
<rect x="718.46" y="228.38" width="3.19" height="3.19" fill="#c8dbea"/>
<rect x="721.62" y="241.03" width="3.19" height="3.19" fill="#9dbfda"/>
<rect x="721.62" y="237.86" width="3.19" height="3.19" fill="#1c6ba8"/>
<rect x="721.62" y="234.70" width="3.19" height="3.19" fill="#1c6ba8"/>
<rect x="721.62" y="231.54" width="3.19" height="3.19" fill="#1c6ba8"/>
<rect x="721.62" y="228.38" width="3.19" height="3.19" fill="#9dbfda"/>
<rect x="724.78" y="241.03" width="3.19" height="3.19" fill="#bad2e4"/>
<rect x="724.78" y="237.86" width="3.19" height="3.19" fill="#1c6ba8"/>
<rect x="724.78" y="234.70" width="3.19" height="3.19" fill="#1c6ba8"/>
<rect x="724.78" y="231.54" width="3.19" height="3.19" fill="#1c6ba8"/>
<rect x="724.78" y="228.38" width="3.19" height="3.19" fill="#7eabcd"/>
<rect x="727.94" y="241.03" width="3.19" height="3.19" fill="#d6e4ef"/>
<rect x="727.94" y="237.86" width="3.19" height="3.19" fill="#1c6ba8"/>
<rect x="727.94" y="234.70" width="3.19" height="3.19" fill="#1c6ba8"/>
<rect x="727.94" y="231.54" width="3.19" height="3.19" fill="#1c6ba8"/>
<rect x="727.94" y="228.38" width="3.19" height="3.19" fill="#1c6ba8"/>
<rect x="727.94" y="225.22" width="3.19" height="3.19" fill="#e6eff5"/>
<rect x="731.09" y="241.03" width="3.19" height="3.19" fill="#f2f6fa"/>
<rect x="731.09" y="237.86" width="3.19" height="3.19" fill="#1c6ba8"/>
<rect x="731.09" y="234.70" width="3.19" height="3.19" fill="#1c6ba8"/>
<rect x="731.09" y="231.54" width="3.19" height="3.19" fill="#1c6ba8"/>
<rect x="731.09" y="228.38" width="3.19" height="3.19" fill="#1c6ba8"/>
<rect x="731.09" y="225.22" width="3.19" height="3.19" fill="#c6dae9"/>
<rect x="734.25" y="237.86" width="3.19" height="3.19" fill="#86b0d1"/>
<rect x="734.25" y="234.70" width="3.19" height="3.19" fill="#1c6ba8"/>
<rect x="734.25" y="231.54" width="3.19" height="3.19" fill="#1c6ba8"/>
<rect x="734.25" y="228.38" width="3.19" height="3.19" fill="#1c6ba8"/>
<rect x="734.25" y="225.22" width="3.19" height="3.19" fill="#a6c5dd"/>
<rect x="737.41" y="237.86" width="3.19" height="3.19" fill="#a2c2db"/>
<rect x="737.41" y="234.70" width="3.19" height="3.19" fill="#1c6ba8"/>
<rect x="737.41" y="231.54" width="3.19" height="3.19" fill="#1c6ba8"/>
<rect x="737.41" y="228.38" width="3.19" height="3.19" fill="#1c6ba8"/>
<rect x="737.41" y="225.22" width="3.19" height="3.19" fill="#87b1d1"/>
<rect x="740.57" y="237.86" width="3.19" height="3.19" fill="#b3cee2"/>
<rect x="740.57" y="234.70" width="3.19" height="3.19" fill="#1c6ba8"/>
<rect x="740.57" y="231.54" width="3.19" height="3.19" fill="#1c6ba8"/>
<rect x="740.57" y="228.38" width="3.19" height="3.19" fill="#1c6ba8"/>
<rect x="740.57" y="225.22" width="3.19" height="3.19" fill="#1c6ba8"/>
<rect x="740.57" y="222.05" width="3.19" height="3.19" fill="#fafcfd"/>
<rect x="743.73" y="237.86" width="3.19" height="3.19" fill="#c4d9e9"/>
<rect x="743.73" y="234.70" width="3.19" height="3.19" fill="#1c6ba8"/>
<rect x="743.73" y="231.54" width="3.19" height="3.19" fill="#1c6ba8"/>
<rect x="743.73" y="228.38" width="3.19" height="3.19" fill="#1c6ba8"/>
<rect x="743.73" y="225.22" width="3.19" height="3.19" fill="#1c6ba8"/>
<rect x="743.73" y="222.05" width="3.19" height="3.19" fill="#e5eef5"/>
<rect x="746.88" y="237.86" width="3.19" height="3.19" fill="#d6e4ef"/>
<rect x="746.88" y="234.70" width="3.19" height="3.19" fill="#1c6ba8"/>
<rect x="746.88" y="231.54" width="3.19" height="3.19" fill="#1c6ba8"/>
<rect x="746.88" y="228.38" width="3.19" height="3.19" fill="#1c6ba8"/>
<rect x="746.88" y="225.22" width="3.19" height="3.19" fill="#1c6ba8"/>
<rect x="746.88" y="222.05" width="3.19" height="3.19" fill="#d0e1ed"/>
<rect x="750.04" y="237.86" width="3.19" height="3.19" fill="#e7eff6"/>
<rect x="750.04" y="234.70" width="3.19" height="3.19" fill="#1c6ba8"/>
<rect x="750.04" y="231.54" width="3.19" height="3.19" fill="#1c6ba8"/>
<rect x="750.04" y="228.38" width="3.19" height="3.19" fill="#1c6ba8"/>
<rect x="750.04" y="225.22" width="3.19" height="3.19" fill="#1c6ba8"/>
<rect x="750.04" y="222.05" width="3.19" height="3.19" fill="#bbd3e5"/>
<rect x="753.20" y="237.86" width="3.19" height="3.19" fill="#f8fbfc"/>
<rect x="753.20" y="234.70" width="3.19" height="3.19" fill="#1c6ba8"/>
<rect x="753.20" y="231.54" width="3.19" height="3.19" fill="#1c6ba8"/>
<rect x="753.20" y="228.38" width="3.19" height="3.19" fill="#1c6ba8"/>
<rect x="753.20" y="225.22" width="3.19" height="3.19" fill="#1c6ba8"/>
<rect x="753.20" y="222.05" width="3.19" height="3.19" fill="#a6c5dd"/>
<rect x="756.36" y="234.70" width="3.19" height="3.19" fill="#7daacd"/>
<rect x="756.36" y="231.54" width="3.19" height="3.19" fill="#1c6ba8"/>
<rect x="756.36" y="228.38" width="3.19" height="3.19" fill="#1c6ba8"/>
<rect x="756.36" y="225.22" width="3.19" height="3.19" fill="#1c6ba8"/>
<rect x="756.36" y="222.05" width="3.19" height="3.19" fill="#98bcd8"/>
<rect x="759.52" y="234.70" width="3.19" height="3.19" fill="#89b2d2"/>
<rect x="759.52" y="231.54" width="3.19" height="3.19" fill="#1c6ba8"/>
<rect x="759.52" y="228.38" width="3.19" height="3.19" fill="#1c6ba8"/>
<rect x="759.52" y="225.22" width="3.19" height="3.19" fill="#1c6ba8"/>
<rect x="759.52" y="222.05" width="3.19" height="3.19" fill="#89b2d2"/>
<rect x="762.67" y="234.70" width="3.19" height="3.19" fill="#96bbd7"/>
<rect x="762.67" y="231.54" width="3.19" height="3.19" fill="#1c6ba8"/>
<rect x="762.67" y="228.38" width="3.19" height="3.19" fill="#1c6ba8"/>
<rect x="762.67" y="225.22" width="3.19" height="3.19" fill="#1c6ba8"/>
<rect x="762.67" y="222.05" width="3.19" height="3.19" fill="#7ba9cc"/>
<rect x="765.83" y="234.70" width="3.19" height="3.19" fill="#a3c3dc"/>
<rect x="765.83" y="231.54" width="3.19" height="3.19" fill="#1c6ba8"/>
<rect x="765.83" y="228.38" width="3.19" height="3.19" fill="#1c6ba8"/>
<rect x="765.83" y="225.22" width="3.19" height="3.19" fill="#1c6ba8"/>
<rect x="765.83" y="222.05" width="3.19" height="3.19" fill="#1c6ba8"/>
<rect x="765.83" y="218.89" width="3.19" height="3.19" fill="#f5f8fb"/>
<rect x="768.99" y="234.70" width="3.19" height="3.19" fill="#b0cbe1"/>
<rect x="768.99" y="231.54" width="3.19" height="3.19" fill="#1c6ba8"/>
<rect x="768.99" y="228.38" width="3.19" height="3.19" fill="#1c6ba8"/>
<rect x="768.99" y="225.22" width="3.19" height="3.19" fill="#1c6ba8"/>
<rect x="768.99" y="222.05" width="3.19" height="3.19" fill="#1c6ba8"/>
<rect x="768.99" y="218.89" width="3.19" height="3.19" fill="#e6eff5"/>
<rect x="772.15" y="234.70" width="3.19" height="3.19" fill="#b5cfe3"/>
<rect x="772.15" y="231.54" width="3.19" height="3.19" fill="#1c6ba8"/>
<rect x="772.15" y="228.38" width="3.19" height="3.19" fill="#1c6ba8"/>
<rect x="772.15" y="225.22" width="3.19" height="3.19" fill="#1c6ba8"/>
<rect x="772.15" y="222.05" width="3.19" height="3.19" fill="#1c6ba8"/>
<rect x="772.15" y="218.89" width="3.19" height="3.19" fill="#deeaf2"/>
<rect x="775.31" y="234.70" width="3.19" height="3.19" fill="#bbd3e5"/>
<rect x="775.31" y="231.54" width="3.19" height="3.19" fill="#1c6ba8"/>
<rect x="775.31" y="228.38" width="3.19" height="3.19" fill="#1c6ba8"/>
<rect x="775.31" y="225.22" width="3.19" height="3.19" fill="#1c6ba8"/>
<rect x="775.31" y="222.05" width="3.19" height="3.19" fill="#1c6ba8"/>
<rect x="775.31" y="218.89" width="3.19" height="3.19" fill="#d7e5f0"/>
<rect x="778.46" y="234.70" width="3.19" height="3.19" fill="#c1d7e7"/>
<rect x="778.46" y="231.54" width="3.19" height="3.19" fill="#1c6ba8"/>
<rect x="778.46" y="228.38" width="3.19" height="3.19" fill="#1c6ba8"/>
<rect x="778.46" y="225.22" width="3.19" height="3.19" fill="#1c6ba8"/>
<rect x="778.46" y="222.05" width="3.19" height="3.19" fill="#1c6ba8"/>
<rect x="778.46" y="218.89" width="3.19" height="3.19" fill="#cfe0ed"/>
<rect x="781.62" y="234.70" width="3.19" height="3.19" fill="#c7dbea"/>
<rect x="781.62" y="231.54" width="3.19" height="3.19" fill="#1c6ba8"/>
<rect x="781.62" y="228.38" width="3.19" height="3.19" fill="#1c6ba8"/>
<rect x="781.62" y="225.22" width="3.19" height="3.19" fill="#1c6ba8"/>
<rect x="781.62" y="222.05" width="3.19" height="3.19" fill="#1c6ba8"/>
<rect x="781.62" y="218.89" width="3.19" height="3.19" fill="#c7dbea"/>
<rect x="784.78" y="234.70" width="3.19" height="3.19" fill="#cddeec"/>
<rect x="784.78" y="231.54" width="3.19" height="3.19" fill="#1c6ba8"/>
<rect x="784.78" y="228.38" width="3.19" height="3.19" fill="#1c6ba8"/>
<rect x="784.78" y="225.22" width="3.19" height="3.19" fill="#1c6ba8"/>
<rect x="784.78" y="222.05" width="3.19" height="3.19" fill="#1c6ba8"/>
<rect x="784.78" y="218.89" width="3.19" height="3.19" fill="#bfd6e7"/>
<rect x="787.94" y="234.70" width="3.19" height="3.19" fill="#d3e2ee"/>
<rect x="787.94" y="231.54" width="3.19" height="3.19" fill="#1c6ba8"/>
<rect x="787.94" y="228.38" width="3.19" height="3.19" fill="#1c6ba8"/>
<rect x="787.94" y="225.22" width="3.19" height="3.19" fill="#1c6ba8"/>
<rect x="787.94" y="222.05" width="3.19" height="3.19" fill="#1c6ba8"/>
<rect x="787.94" y="218.89" width="3.19" height="3.19" fill="#b8d1e4"/>
<rect x="791.10" y="234.70" width="3.19" height="3.19" fill="#d9e6f0"/>
<rect x="791.10" y="231.54" width="3.19" height="3.19" fill="#1c6ba8"/>
<rect x="791.10" y="228.38" width="3.19" height="3.19" fill="#1c6ba8"/>
<rect x="791.10" y="225.22" width="3.19" height="3.19" fill="#1c6ba8"/>
<rect x="791.10" y="222.05" width="3.19" height="3.19" fill="#1c6ba8"/>
<rect x="791.10" y="218.89" width="3.19" height="3.19" fill="#b0cbe1"/>
<rect x="794.25" y="234.70" width="3.19" height="3.19" fill="#dfeaf3"/>
<rect x="794.25" y="231.54" width="3.19" height="3.19" fill="#1c6ba8"/>
<rect x="794.25" y="228.38" width="3.19" height="3.19" fill="#1c6ba8"/>
<rect x="794.25" y="225.22" width="3.19" height="3.19" fill="#1c6ba8"/>
<rect x="794.25" y="222.05" width="3.19" height="3.19" fill="#1c6ba8"/>
<rect x="794.25" y="218.89" width="3.19" height="3.19" fill="#a8c6de"/>
<rect x="797.41" y="234.70" width="3.19" height="3.19" fill="#e5eef5"/>
<rect x="797.41" y="231.54" width="3.19" height="3.19" fill="#1c6ba8"/>
<rect x="797.41" y="228.38" width="3.19" height="3.19" fill="#1c6ba8"/>
<rect x="797.41" y="225.22" width="3.19" height="3.19" fill="#1c6ba8"/>
<rect x="797.41" y="222.05" width="3.19" height="3.19" fill="#1c6ba8"/>
<rect x="797.41" y="218.89" width="3.19" height="3.19" fill="#a1c1db"/>
<rect x="800.57" y="234.70" width="3.19" height="3.19" fill="#ebf2f7"/>
<rect x="800.57" y="231.54" width="3.19" height="3.19" fill="#1c6ba8"/>
<rect x="800.57" y="228.38" width="3.19" height="3.19" fill="#1c6ba8"/>
<rect x="800.57" y="225.22" width="3.19" height="3.19" fill="#1c6ba8"/>
<rect x="800.57" y="222.05" width="3.19" height="3.19" fill="#1c6ba8"/>
<rect x="800.57" y="218.89" width="3.19" height="3.19" fill="#99bcd8"/>
<rect x="803.73" y="234.70" width="3.19" height="3.19" fill="#eef4f8"/>
<rect x="803.73" y="231.54" width="3.19" height="3.19" fill="#1c6ba8"/>
<rect x="803.73" y="228.38" width="3.19" height="3.19" fill="#1c6ba8"/>
<rect x="803.73" y="225.22" width="3.19" height="3.19" fill="#1c6ba8"/>
<rect x="803.73" y="222.05" width="3.19" height="3.19" fill="#1c6ba8"/>
<rect x="803.73" y="218.89" width="3.19" height="3.19" fill="#96bad7"/>
<rect x="806.89" y="234.70" width="3.19" height="3.19" fill="#f1f6f9"/>
<rect x="806.89" y="231.54" width="3.19" height="3.19" fill="#1c6ba8"/>
<rect x="806.89" y="228.38" width="3.19" height="3.19" fill="#1c6ba8"/>
<rect x="806.89" y="225.22" width="3.19" height="3.19" fill="#1c6ba8"/>
<rect x="806.89" y="222.05" width="3.19" height="3.19" fill="#1c6ba8"/>
<rect x="806.89" y="218.89" width="3.19" height="3.19" fill="#93b8d6"/>
<rect x="810.04" y="234.70" width="3.19" height="3.19" fill="#f4f8fb"/>
<rect x="810.04" y="231.54" width="3.19" height="3.19" fill="#1c6ba8"/>
<rect x="810.04" y="228.38" width="3.19" height="3.19" fill="#1c6ba8"/>
<rect x="810.04" y="225.22" width="3.19" height="3.19" fill="#1c6ba8"/>
<rect x="810.04" y="222.05" width="3.19" height="3.19" fill="#1c6ba8"/>
<rect x="810.04" y="218.89" width="3.19" height="3.19" fill="#90b7d4"/>
<rect x="813.20" y="234.70" width="3.19" height="3.19" fill="#f7f9fc"/>
<rect x="813.20" y="231.54" width="3.19" height="3.19" fill="#1c6ba8"/>
<rect x="813.20" y="228.38" width="3.19" height="3.19" fill="#1c6ba8"/>
<rect x="813.20" y="225.22" width="3.19" height="3.19" fill="#1c6ba8"/>
<rect x="813.20" y="222.05" width="3.19" height="3.19" fill="#1c6ba8"/>
<rect x="813.20" y="218.89" width="3.19" height="3.19" fill="#8db5d3"/>
<rect x="816.36" y="234.70" width="3.19" height="3.19" fill="#fafbfd"/>
<rect x="816.36" y="231.54" width="3.19" height="3.19" fill="#1c6ba8"/>
<rect x="816.36" y="228.38" width="3.19" height="3.19" fill="#1c6ba8"/>
<rect x="816.36" y="225.22" width="3.19" height="3.19" fill="#1c6ba8"/>
<rect x="816.36" y="222.05" width="3.19" height="3.19" fill="#1c6ba8"/>
<rect x="816.36" y="218.89" width="3.19" height="3.19" fill="#8ab3d2"/>
<rect x="819.52" y="231.54" width="3.19" height="3.19" fill="#1c6ba8"/>
<rect x="819.52" y="228.38" width="3.19" height="3.19" fill="#1c6ba8"/>
<rect x="819.52" y="225.22" width="3.19" height="3.19" fill="#1c6ba8"/>
<rect x="819.52" y="222.05" width="3.19" height="3.19" fill="#1c6ba8"/>
<rect x="819.52" y="218.89" width="3.19" height="3.19" fill="#87b1d1"/>
<rect x="822.68" y="231.54" width="3.19" height="3.19" fill="#77a7cb"/>
<rect x="822.68" y="228.38" width="3.19" height="3.19" fill="#1c6ba8"/>
<rect x="822.68" y="225.22" width="3.19" height="3.19" fill="#1c6ba8"/>
<rect x="822.68" y="222.05" width="3.19" height="3.19" fill="#1c6ba8"/>
<rect x="822.68" y="218.89" width="3.19" height="3.19" fill="#84afd0"/>
<rect x="825.83" y="231.54" width="3.19" height="3.19" fill="#7aa9cc"/>
<rect x="825.83" y="228.38" width="3.19" height="3.19" fill="#1c6ba8"/>
<rect x="825.83" y="225.22" width="3.19" height="3.19" fill="#1c6ba8"/>
<rect x="825.83" y="222.05" width="3.19" height="3.19" fill="#1c6ba8"/>
<rect x="825.83" y="218.89" width="3.19" height="3.19" fill="#81adcf"/>
<rect x="828.99" y="231.54" width="3.19" height="3.19" fill="#7daacd"/>
<rect x="828.99" y="228.38" width="3.19" height="3.19" fill="#1c6ba8"/>
<rect x="828.99" y="225.22" width="3.19" height="3.19" fill="#1c6ba8"/>
<rect x="828.99" y="222.05" width="3.19" height="3.19" fill="#1c6ba8"/>
<rect x="828.99" y="218.89" width="3.19" height="3.19" fill="#7eabce"/>
<rect x="832.15" y="231.54" width="3.19" height="3.19" fill="#80acce"/>
<rect x="832.15" y="228.38" width="3.19" height="3.19" fill="#1c6ba8"/>
<rect x="832.15" y="225.22" width="3.19" height="3.19" fill="#1c6ba8"/>
<rect x="832.15" y="222.05" width="3.19" height="3.19" fill="#1c6ba8"/>
<rect x="832.15" y="218.89" width="3.19" height="3.19" fill="#7ba9cc"/>
<rect x="835.31" y="231.54" width="3.19" height="3.19" fill="#83aed0"/>
<rect x="835.31" y="228.38" width="3.19" height="3.19" fill="#1c6ba8"/>
<rect x="835.31" y="225.22" width="3.19" height="3.19" fill="#1c6ba8"/>
<rect x="835.31" y="222.05" width="3.19" height="3.19" fill="#1c6ba8"/>
<rect x="835.31" y="218.89" width="3.19" height="3.19" fill="#78a7cb"/>
<rect x="838.47" y="231.54" width="3.19" height="3.19" fill="#86b0d1"/>
<rect x="838.47" y="228.38" width="3.19" height="3.19" fill="#1c6ba8"/>
<rect x="838.47" y="225.22" width="3.19" height="3.19" fill="#1c6ba8"/>
<rect x="838.47" y="222.05" width="3.19" height="3.19" fill="#1c6ba8"/>
<rect x="838.47" y="218.89" width="3.19" height="3.19" fill="#1c6ba8"/>
<rect x="841.62" y="231.54" width="3.19" height="3.19" fill="#89b2d2"/>
<rect x="841.62" y="228.38" width="3.19" height="3.19" fill="#1c6ba8"/>
<rect x="841.62" y="225.22" width="3.19" height="3.19" fill="#1c6ba8"/>
<rect x="841.62" y="222.05" width="3.19" height="3.19" fill="#1c6ba8"/>
<rect x="841.62" y="218.89" width="3.19" height="3.19" fill="#1c6ba8"/>
<rect x="841.62" y="215.73" width="3.19" height="3.19" fill="#fafcfd"/>
<rect x="844.78" y="231.54" width="3.19" height="3.19" fill="#8cb4d3"/>
<rect x="844.78" y="228.38" width="3.19" height="3.19" fill="#1c6ba8"/>
<rect x="844.78" y="225.22" width="3.19" height="3.19" fill="#1c6ba8"/>
<rect x="844.78" y="222.05" width="3.19" height="3.19" fill="#1c6ba8"/>
<rect x="844.78" y="218.89" width="3.19" height="3.19" fill="#1c6ba8"/>
<rect x="844.78" y="215.73" width="3.19" height="3.19" fill="#f7fafc"/>
<rect x="847.94" y="231.54" width="3.19" height="3.19" fill="#8fb6d4"/>
<rect x="847.94" y="228.38" width="3.19" height="3.19" fill="#1c6ba8"/>
<rect x="847.94" y="225.22" width="3.19" height="3.19" fill="#1c6ba8"/>
<rect x="847.94" y="222.05" width="3.19" height="3.19" fill="#1c6ba8"/>
<rect x="847.94" y="218.89" width="3.19" height="3.19" fill="#1c6ba8"/>
<rect x="847.94" y="215.73" width="3.19" height="3.19" fill="#f4f8fb"/>
<rect x="851.10" y="231.54" width="3.19" height="3.19" fill="#92b8d5"/>
<rect x="851.10" y="228.38" width="3.19" height="3.19" fill="#1c6ba8"/>
<rect x="851.10" y="225.22" width="3.19" height="3.19" fill="#1c6ba8"/>
<rect x="851.10" y="222.05" width="3.19" height="3.19" fill="#1c6ba8"/>
<rect x="851.10" y="218.89" width="3.19" height="3.19" fill="#1c6ba8"/>
<rect x="851.10" y="215.73" width="3.19" height="3.19" fill="#f1f6fa"/>
<rect x="854.26" y="231.54" width="3.19" height="3.19" fill="#95bad6"/>
<rect x="854.26" y="228.38" width="3.19" height="3.19" fill="#1c6ba8"/>
<rect x="854.26" y="225.22" width="3.19" height="3.19" fill="#1c6ba8"/>
<rect x="854.26" y="222.05" width="3.19" height="3.19" fill="#1c6ba8"/>
<rect x="854.26" y="218.89" width="3.19" height="3.19" fill="#1c6ba8"/>
<rect x="854.26" y="215.73" width="3.19" height="3.19" fill="#eef4f9"/>
<rect x="857.41" y="231.54" width="3.19" height="3.19" fill="#98bcd8"/>
<rect x="857.41" y="228.38" width="3.19" height="3.19" fill="#1c6ba8"/>
<rect x="857.41" y="225.22" width="3.19" height="3.19" fill="#1c6ba8"/>
<rect x="857.41" y="222.05" width="3.19" height="3.19" fill="#1c6ba8"/>
<rect x="857.41" y="218.89" width="3.19" height="3.19" fill="#1c6ba8"/>
<rect x="857.41" y="215.73" width="3.19" height="3.19" fill="#ebf2f7"/>
<rect x="860.57" y="231.54" width="3.19" height="3.19" fill="#9bbed9"/>
<rect x="860.57" y="228.38" width="3.19" height="3.19" fill="#1c6ba8"/>
<rect x="860.57" y="225.22" width="3.19" height="3.19" fill="#1c6ba8"/>
<rect x="860.57" y="222.05" width="3.19" height="3.19" fill="#1c6ba8"/>
<rect x="860.57" y="218.89" width="3.19" height="3.19" fill="#1c6ba8"/>
<rect x="860.57" y="215.73" width="3.19" height="3.19" fill="#e8f0f6"/>
<rect x="863.73" y="231.54" width="3.19" height="3.19" fill="#9ec0da"/>
<rect x="863.73" y="228.38" width="3.19" height="3.19" fill="#1c6ba8"/>
<rect x="863.73" y="225.22" width="3.19" height="3.19" fill="#1c6ba8"/>
<rect x="863.73" y="222.05" width="3.19" height="3.19" fill="#1c6ba8"/>
<rect x="863.73" y="218.89" width="3.19" height="3.19" fill="#1c6ba8"/>
<rect x="863.73" y="215.73" width="3.19" height="3.19" fill="#e5eef5"/>
<rect x="866.89" y="231.54" width="3.19" height="3.19" fill="#a1c2db"/>
<rect x="866.89" y="228.38" width="3.19" height="3.19" fill="#1c6ba8"/>
<rect x="866.89" y="225.22" width="3.19" height="3.19" fill="#1c6ba8"/>
<rect x="866.89" y="222.05" width="3.19" height="3.19" fill="#1c6ba8"/>
<rect x="866.89" y="218.89" width="3.19" height="3.19" fill="#1c6ba8"/>
<rect x="866.89" y="215.73" width="3.19" height="3.19" fill="#e2ecf4"/>
<rect x="870.05" y="231.54" width="3.19" height="3.19" fill="#a4c4dc"/>
<rect x="870.05" y="228.38" width="3.19" height="3.19" fill="#1c6ba8"/>
<rect x="870.05" y="225.22" width="3.19" height="3.19" fill="#1c6ba8"/>
<rect x="870.05" y="222.05" width="3.19" height="3.19" fill="#1c6ba8"/>
<rect x="870.05" y="218.89" width="3.19" height="3.19" fill="#1c6ba8"/>
<rect x="870.05" y="215.73" width="3.19" height="3.19" fill="#dfeaf3"/>
<rect x="873.20" y="231.54" width="3.19" height="3.19" fill="#a7c6dd"/>
<rect x="873.20" y="228.38" width="3.19" height="3.19" fill="#1c6ba8"/>
<rect x="873.20" y="225.22" width="3.19" height="3.19" fill="#1c6ba8"/>
<rect x="873.20" y="222.05" width="3.19" height="3.19" fill="#1c6ba8"/>
<rect x="873.20" y="218.89" width="3.19" height="3.19" fill="#1c6ba8"/>
<rect x="873.20" y="215.73" width="3.19" height="3.19" fill="#dce8f2"/>
<rect x="876.36" y="231.54" width="3.19" height="3.19" fill="#aac8df"/>
<rect x="876.36" y="228.38" width="3.19" height="3.19" fill="#1c6ba8"/>
<rect x="876.36" y="225.22" width="3.19" height="3.19" fill="#1c6ba8"/>
<rect x="876.36" y="222.05" width="3.19" height="3.19" fill="#1c6ba8"/>
<rect x="876.36" y="218.89" width="3.19" height="3.19" fill="#1c6ba8"/>
<rect x="876.36" y="215.73" width="3.19" height="3.19" fill="#d9e6f0"/>
<rect x="879.52" y="231.54" width="1.81" height="3.19" fill="#adcae0"/>
<rect x="879.52" y="228.38" width="1.81" height="3.19" fill="#1c6ba8"/>
<rect x="879.52" y="225.22" width="1.81" height="3.19" fill="#1c6ba8"/>
<rect x="879.52" y="222.05" width="1.81" height="3.19" fill="#1c6ba8"/>
<rect x="879.52" y="218.89" width="1.81" height="3.19" fill="#1c6ba8"/>
<rect x="879.52" y="215.73" width="1.81" height="3.19" fill="#d6e4ef"/>
</g>
<line x1="119.20" y1="359.60" x2="119.20" y2="365.60" stroke="#111111" stroke-width="1.45"/>
<line x1="198.48" y1="359.60" x2="198.48" y2="365.60" stroke="#111111" stroke-width="1.45"/>
<line x1="277.75" y1="359.60" x2="277.75" y2="365.60" stroke="#111111" stroke-width="1.45"/>
<line x1="357.03" y1="359.60" x2="357.03" y2="365.60" stroke="#111111" stroke-width="1.45"/>
<line x1="436.30" y1="359.60" x2="436.30" y2="365.60" stroke="#111111" stroke-width="1.45"/>
<line x1="113.20" y1="359.60" x2="119.20" y2="359.60" stroke="#111111" stroke-width="1.45"/>
<line x1="113.20" y1="280.15" x2="119.20" y2="280.15" stroke="#111111" stroke-width="1.45"/>
<line x1="113.20" y1="200.70" x2="119.20" y2="200.70" stroke="#111111" stroke-width="1.45"/>
<line x1="113.20" y1="121.25" x2="119.20" y2="121.25" stroke="#111111" stroke-width="1.45"/>
<line x1="113.20" y1="41.80" x2="119.20" y2="41.80" stroke="#111111" stroke-width="1.45"/>
<text x="119.20" y="384.00" font-size="17.40" text-anchor="middle">0</text>
<text x="198.48" y="384.00" font-size="17.40" text-anchor="middle">0.25</text>
<text x="277.75" y="384.00" font-size="17.40" text-anchor="middle">0.5</text>
<text x="357.03" y="384.00" font-size="17.40" text-anchor="middle">0.75</text>
<path fill="#000" d="M438.50 372.20V383.80H436.65V374.50L433.75 375.80V374.55L436.35 372.20Z"/>
<text x="106.70" y="365.80" font-size="17.40" text-anchor="end">0</text>
<text x="106.70" y="286.35" font-size="17.40" text-anchor="end">0.125</text>
<text x="106.70" y="206.90" font-size="17.40" text-anchor="end">0.25</text>
<text x="106.70" y="127.45" font-size="17.40" text-anchor="end">0.375</text>
<text x="106.70" y="48.00" font-size="17.40" text-anchor="end">0.5</text>
<line x1="119.20" y1="773.40" x2="119.20" y2="779.40" stroke="#111111" stroke-width="1.45"/>
<line x1="198.48" y1="773.40" x2="198.48" y2="779.40" stroke="#111111" stroke-width="1.45"/>
<line x1="277.75" y1="773.40" x2="277.75" y2="779.40" stroke="#111111" stroke-width="1.45"/>
<line x1="357.03" y1="773.40" x2="357.03" y2="779.40" stroke="#111111" stroke-width="1.45"/>
<line x1="436.30" y1="773.40" x2="436.30" y2="779.40" stroke="#111111" stroke-width="1.45"/>
<line x1="113.20" y1="773.40" x2="119.20" y2="773.40" stroke="#111111" stroke-width="1.45"/>
<line x1="113.20" y1="693.92" x2="119.20" y2="693.92" stroke="#111111" stroke-width="1.45"/>
<line x1="113.20" y1="614.45" x2="119.20" y2="614.45" stroke="#111111" stroke-width="1.45"/>
<line x1="113.20" y1="534.98" x2="119.20" y2="534.98" stroke="#111111" stroke-width="1.45"/>
<line x1="113.20" y1="455.50" x2="119.20" y2="455.50" stroke="#111111" stroke-width="1.45"/>
<text x="119.20" y="797.80" font-size="17.40" text-anchor="middle">0</text>
<text x="198.48" y="797.80" font-size="17.40" text-anchor="middle">0.25</text>
<text x="277.75" y="797.80" font-size="17.40" text-anchor="middle">0.5</text>
<text x="357.03" y="797.80" font-size="17.40" text-anchor="middle">0.75</text>
<path fill="#000" d="M438.50 786.00V797.60H436.65V788.30L433.75 789.60V788.35L436.35 786.00Z"/>
<text x="106.70" y="779.60" font-size="17.40" text-anchor="end">0</text>
<text x="106.70" y="700.12" font-size="17.40" text-anchor="end">0.125</text>
<text x="106.70" y="620.65" font-size="17.40" text-anchor="end">0.25</text>
<text x="106.70" y="541.18" font-size="17.40" text-anchor="end">0.375</text>
<text x="106.70" y="461.70" font-size="17.40" text-anchor="end">0.5</text>
<line x1="564.50" y1="773.40" x2="564.50" y2="779.40" stroke="#111111" stroke-width="1.45"/>
<line x1="643.70" y1="773.40" x2="643.70" y2="779.40" stroke="#111111" stroke-width="1.45"/>
<line x1="722.90" y1="773.40" x2="722.90" y2="779.40" stroke="#111111" stroke-width="1.45"/>
<line x1="802.10" y1="773.40" x2="802.10" y2="779.40" stroke="#111111" stroke-width="1.45"/>
<line x1="881.30" y1="773.40" x2="881.30" y2="779.40" stroke="#111111" stroke-width="1.45"/>
<line x1="558.50" y1="773.40" x2="564.50" y2="773.40" stroke="#111111" stroke-width="1.45"/>
<line x1="558.50" y1="693.92" x2="564.50" y2="693.92" stroke="#111111" stroke-width="1.45"/>
<line x1="558.50" y1="614.45" x2="564.50" y2="614.45" stroke="#111111" stroke-width="1.45"/>
<line x1="558.50" y1="534.98" x2="564.50" y2="534.98" stroke="#111111" stroke-width="1.45"/>
<line x1="558.50" y1="455.50" x2="564.50" y2="455.50" stroke="#111111" stroke-width="1.45"/>
<text x="564.50" y="797.80" font-size="17.40" text-anchor="middle">0</text>
<text x="643.70" y="797.80" font-size="17.40" text-anchor="middle">0.25</text>
<text x="722.90" y="797.80" font-size="17.40" text-anchor="middle">0.5</text>
<text x="802.10" y="797.80" font-size="17.40" text-anchor="middle">0.75</text>
<path fill="#000" d="M883.50 786.00V797.60H881.65V788.30L878.75 789.60V788.35L881.35 786.00Z"/>
<text x="552.00" y="779.60" font-size="17.40" text-anchor="end">0</text>
<text x="552.00" y="700.12" font-size="17.40" text-anchor="end">0.125</text>
<text x="552.00" y="620.65" font-size="17.40" text-anchor="end">0.25</text>
<text x="552.00" y="541.18" font-size="17.40" text-anchor="end">0.375</text>
<text x="552.00" y="461.70" font-size="17.40" text-anchor="end">0.5</text>
<line x1="565.30" y1="359.60" x2="565.30" y2="365.60" stroke="#111111" stroke-width="1.45"/>
<line x1="644.25" y1="359.60" x2="644.25" y2="365.60" stroke="#111111" stroke-width="1.45"/>
<line x1="723.20" y1="359.60" x2="723.20" y2="365.60" stroke="#111111" stroke-width="1.45"/>
<line x1="802.15" y1="359.60" x2="802.15" y2="365.60" stroke="#111111" stroke-width="1.45"/>
<line x1="881.10" y1="359.60" x2="881.10" y2="365.60" stroke="#111111" stroke-width="1.45"/>
<line x1="558.50" y1="359.60" x2="564.50" y2="359.60" stroke="#111111" stroke-width="1.45"/>
<line x1="558.50" y1="280.55" x2="564.50" y2="280.55" stroke="#111111" stroke-width="1.45"/>
<line x1="558.50" y1="201.50" x2="564.50" y2="201.50" stroke="#111111" stroke-width="1.45"/>
<line x1="558.50" y1="122.45" x2="564.50" y2="122.45" stroke="#111111" stroke-width="1.45"/>
<line x1="558.50" y1="43.40" x2="564.50" y2="43.40" stroke="#111111" stroke-width="1.45"/>
<text x="565.30" y="384.00" font-size="17.40" text-anchor="middle">0</text>
<text x="644.25" y="384.00" font-size="17.40" text-anchor="middle">25</text>
<text x="723.20" y="384.00" font-size="17.40" text-anchor="middle">50</text>
<text x="802.15" y="384.00" font-size="17.40" text-anchor="middle">75</text>
<path fill="#000" d="M874.10 372.20V383.80H872.25V374.50L869.35 375.80V374.55L871.95 372.20Z"/>
<text x="896.20" y="384.00" font-size="17.40" text-anchor="end">00</text>
<text x="552.00" y="365.80" font-size="17.40" text-anchor="end">0</text>
<text x="552.00" y="286.75" font-size="17.40" text-anchor="end">0.25</text>
<text x="552.00" y="207.70" font-size="17.40" text-anchor="end">0.5</text>
<text x="552.00" y="128.65" font-size="17.40" text-anchor="end">0.75</text>
<path fill="#000" d="M548.60 37.90V49.30H546.75V40.20L543.85 41.50V40.25L546.45 37.90Z"/>
<rect x="119.20" y="41.80" width="317.10" height="317.80" fill="none" stroke="#111111" stroke-width="1.45"/>
<rect x="564.50" y="41.80" width="316.80" height="317.80" fill="none" stroke="#111111" stroke-width="1.45"/>
<rect x="119.20" y="455.50" width="317.10" height="317.90" fill="none" stroke="#111111" stroke-width="1.45"/>
<rect x="564.50" y="455.50" width="316.80" height="317.90" fill="none" stroke="#111111" stroke-width="1.45"/>
<text x="158.00" y="23.80" font-size="26.00" textLength="241.00" lengthAdjust="spacingAndGlyphs">Specific Resistance</text>
<text x="605.30" y="23.80" font-size="26.00" textLength="237.00" lengthAdjust="spacingAndGlyphs">General Resistance</text>
<text x="22.30" y="23.80" font-size="21.50" font-weight="bold" textLength="26.00" lengthAdjust="spacingAndGlyphs">(a)</text>
<text x="499.50" y="23.80" font-size="21.50" font-weight="bold" textLength="27.50" lengthAdjust="spacingAndGlyphs">(b)</text>
<text x="35.30" y="433.90" font-size="21.50" font-weight="bold" textLength="26.00" lengthAdjust="spacingAndGlyphs">(c)</text>
<text x="494.60" y="433.90" font-size="21.50" font-weight="bold" textLength="27.50" lengthAdjust="spacingAndGlyphs">(d)</text>
<text x="23.60" y="329.50" font-size="27.30" textLength="259.00" lengthAdjust="spacingAndGlyphs" transform="rotate(-90 23.60 329.50)">Isolated Mechanisms</text>
<text x="24.00" y="813.00" font-size="27.30" textLength="397.00" lengthAdjust="spacingAndGlyphs" transform="rotate(-90 24.00 813.00)">General and Specific Resistance</text>
<text x="52.80" y="337.50" font-size="19.80" textLength="273.00" lengthAdjust="spacingAndGlyphs" transform="rotate(-90 52.80 337.50)">cost of specific resistance (<tspan font-style="italic">c</tspan><tspan font-style="italic" font-size="14" dy="4">r</tspan><tspan dy="-4">)</tspan></text>
<text x="52.80" y="751.20" font-size="19.80" textLength="273.00" lengthAdjust="spacingAndGlyphs" transform="rotate(-90 52.80 751.20)">cost of specific resistance (<tspan font-style="italic">c</tspan><tspan font-style="italic" font-size="14" dy="4">r</tspan><tspan dy="-4">)</tspan></text>
<text x="497.80" y="751.20" font-size="19.80" textLength="273.00" lengthAdjust="spacingAndGlyphs" transform="rotate(-90 497.80 751.20)">cost of specific resistance (<tspan font-style="italic">c</tspan><tspan font-style="italic" font-size="14" dy="4">r</tspan><tspan dy="-4">)</tspan></text>
<text x="508.00" y="351.50" font-size="19.80" textLength="305.00" lengthAdjust="spacingAndGlyphs" transform="rotate(-90 508.00 351.50)">strength of general resistance (<tspan font-style="italic">q</tspan>)</text>
<text x="128.00" y="409.00" font-size="19.80" textLength="300.00" lengthAdjust="spacingAndGlyphs">strength of specific resistance (<tspan font-style="italic">r</tspan>)</text>
<text x="128.00" y="822.70" font-size="19.80" textLength="300.00" lengthAdjust="spacingAndGlyphs">strength of specific resistance (<tspan font-style="italic">r</tspan>)</text>
<text x="573.50" y="822.70" font-size="19.80" textLength="300.00" lengthAdjust="spacingAndGlyphs">strength of specific resistance (<tspan font-style="italic">r</tspan>)</text>
<text x="621.60" y="408.00" font-size="19.80" textLength="202.00" lengthAdjust="spacingAndGlyphs">evolutionary time step</text>
<rect x="127.80" y="50.50" width="170.80" height="76.90" rx="2.5" fill="#ffffff" fill-opacity="0.8" stroke="#cccccc" stroke-opacity="0.8" stroke-width="1"/>
<rect x="133.90" y="56.60" width="35.60" height="13.60" fill="#1c6ba8"/>
<text x="182.30" y="69.40" font-size="15.40" textLength="76.00" lengthAdjust="spacingAndGlyphs">S Fixation</text>
<rect x="133.90" y="80.80" width="35.60" height="13.60" fill="#57ab6e"/>
<text x="182.30" y="93.60" font-size="15.40" textLength="77.00" lengthAdjust="spacingAndGlyphs">R Fixation</text>
<rect x="133.90" y="105.00" width="35.60" height="13.60" fill="#df7e4f"/>
<text x="182.30" y="117.80" font-size="15.40" textLength="109.50" lengthAdjust="spacingAndGlyphs">Polymorphism</text>
<rect x="127.80" y="464.20" width="170.80" height="76.90" rx="2.5" fill="#ffffff" fill-opacity="0.8" stroke="#cccccc" stroke-opacity="0.8" stroke-width="1"/>
<rect x="133.90" y="470.30" width="35.60" height="13.60" fill="#1c6ba8"/>
<text x="182.30" y="483.10" font-size="15.40" textLength="76.00" lengthAdjust="spacingAndGlyphs">S Fixation</text>
<rect x="133.90" y="494.50" width="35.60" height="13.60" fill="#57ab6e"/>
<text x="182.30" y="507.30" font-size="15.40" textLength="77.00" lengthAdjust="spacingAndGlyphs">R Fixation</text>
<rect x="133.90" y="518.70" width="35.60" height="13.60" fill="#df7e4f"/>
<text x="182.30" y="531.50" font-size="15.40" textLength="109.50" lengthAdjust="spacingAndGlyphs">Polymorphism</text>
<rect x="573.10" y="464.40" width="243.80" height="52.60" rx="2.5" fill="#ffffff" fill-opacity="0.8" stroke="#cccccc" stroke-opacity="0.8" stroke-width="1"/>
<rect x="579.20" y="470.60" width="35.60" height="13.60" fill="#1c6ba8"/>
<text x="627.30" y="483.40" font-size="15.40" textLength="182.50" lengthAdjust="spacingAndGlyphs">General Resistance in <tspan font-style="italic">S</tspan></text>
<rect x="579.20" y="494.80" width="35.60" height="13.60" fill="#57ab6e"/>
<text x="627.30" y="507.60" font-size="15.40" textLength="182.50" lengthAdjust="spacingAndGlyphs">General Resistance in <tspan font-style="italic">R</tspan></text>
<g stroke="#000" stroke-width="1.5" fill="none" stroke-linecap="butt"><path d="M770.8 677.8V629.4M766.6 637.2L770.8 629.2L775.0 637.2"/><path d="M734 741.8H696.4M704 737.8L696 741.8L704 745.8"/></g>
<text x="717.30" y="697.30" font-size="16.00" textLength="105.50" lengthAdjust="spacingAndGlyphs"><tspan font-style="italic">S</tspan>: <tspan font-style="italic">q</tspan><tspan font-style="italic" font-size="11.5" dy="3">max</tspan><tspan dy="-3"> = 0.4</tspan></text>
<text x="740.00" y="746.60" font-size="16.00" textLength="106.30" lengthAdjust="spacingAndGlyphs"><tspan font-style="italic">R</tspan>: <tspan font-style="italic">q</tspan><tspan font-style="italic" font-size="11.5" dy="3">max</tspan><tspan dy="-3"> = 0.4</tspan></text>
</svg>
</body></html>
